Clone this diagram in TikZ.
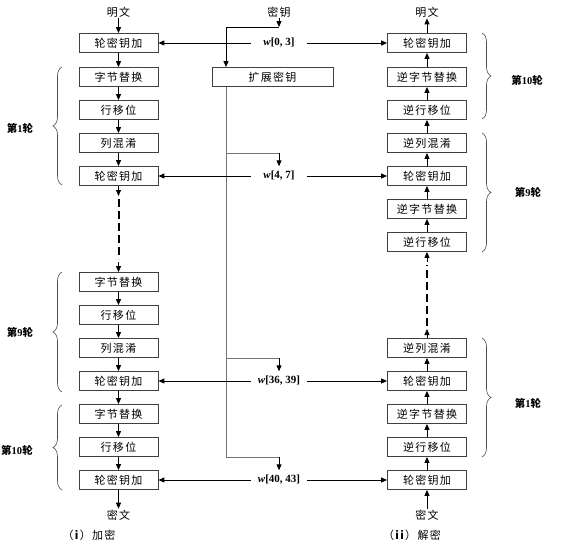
\documentclass[tikz,border=0pt]{standalone}
\usepackage{fontspec}
\setmainfont{Liberation Serif}
\newfontfamily\cjk[LetterSpace=12]{Noto Sans CJK SC}
\newfontfamily\cjkn{Noto Sans CJK SC}
\usetikzlibrary{arrows.meta,decorations.pathreplacing}
\begin{document}
\begin{tikzpicture}[x=1pt,y=-1pt,
 box/.style={draw=black!75,line width=0.8pt,minimum width=79pt,minimum height=19pt,inner sep=0pt,font=\cjk\fontsize{11}{11}\selectfont},
 arr/.style={-{Triangle[length=6pt,width=5pt]},line width=0.9pt},
 lbl/.style={font=\cjk\fontsize{11}{11}\selectfont,inner sep=1pt},
 wl/.style={font=\fontsize{11}{11}\selectfont\bfseries,minimum width=55pt,minimum height=19pt,inner sep=0pt},
 brc/.style={decorate,decoration={brace,amplitude=9pt},draw=black!70,line width=0.6pt},
 rnd/.style={font=\fontsize{10.5}{10.5}\selectfont\bfseries,inner sep=1pt},
 trunk/.style={draw=black!55,line width=0.9pt},
 dsh/.style={line width=2pt,dash pattern=on 8pt off 4pt}
]
\useasboundingbox (0,0) rectangle (562,546);

% left column (encryption)
\node[box] (L1) at (118.5,43) {轮密钥加};
\node[box] (L2) at (118.5,77) {字节替换};
\node[box] (L3) at (118.5,110) {行移位};
\node[box] (L4) at (118.5,143) {列混淆};
\node[box] (L5) at (118.5,176) {轮密钥加};
\node[box] (L6) at (118.5,282) {字节替换};
\node[box] (L7) at (118.5,315) {行移位};
\node[box] (L8) at (118.5,348) {列混淆};
\node[box] (L9) at (118.5,381) {轮密钥加};
\node[box] (L10) at (118.5,414) {字节替换};
\node[box] (L11) at (118.5,447) {行移位};
\node[box] (L12) at (118.5,480) {轮密钥加};

% right column (decryption)
\node[box] (R1) at (427,43) {轮密钥加};
\node[box] (R2) at (427,77) {逆字节替换};
\node[box] (R3) at (427,110) {逆行移位};
\node[box] (R4) at (427,143) {逆列混淆};
\node[box] (R5) at (427,176) {轮密钥加};
\node[box] (R6) at (427,209) {逆字节替换};
\node[box] (R7) at (427,242) {逆行移位};
\node[box] (R8) at (427,348) {逆列混淆};
\node[box] (R9) at (427,381) {轮密钥加};
\node[box] (R10) at (427,414) {逆字节替换};
\node[box] (R11) at (427,447) {逆行移位};
\node[box] (R12) at (427,480) {轮密钥加};

% key expansion
\node[box,minimum width=121pt] (E) at (272.5,77) {扩展密钥};

% texts
\node[lbl] (pL) at (118.5,12) {明文};
\node[lbl] (pR) at (427,12) {明文};
\node[lbl] (key) at (279,12) {密钥};
\node[lbl] (cL) at (118.5,515) {密文};
\node[lbl] (cR) at (427,515) {密文};
\node[lbl] (capL) at (89,535) {（\textbf{i}）加密};
\node[lbl] (capR) at (412,535) {（\textbf{ii}）解密};

% w labels
\node[wl] (w03) at (279,43) {\textit{w}[0, 3]};
\node[wl] (w47) at (279,176) {\textit{w}[4, 7]};
\node[wl] (w3639) at (279,381) {\textit{w}[36, 39]};
\node[wl] (w4043) at (279,480) {\textit{w}[40, 43]};

% coordinates
\coordinate (kj) at (279,27);
\coordinate (t1) at (226,153);
\coordinate (t2) at (226,358);
\coordinate (t3) at (226,457);
\coordinate (d1) at (118.5,196);
\coordinate (d2) at (118.5,262);
\coordinate (d3) at (427,329);
\coordinate (d4) at (427,262);

% left arrows
\draw[arr] (pL) -- (L1);
\draw[arr] (L1) -- (L2);
\draw[arr] (L2) -- (L3);
\draw[arr] (L3) -- (L4);
\draw[arr] (L4) -- (L5);
\draw[arr] (L5) -- (d1);
\draw[dsh,shorten <=3pt,shorten >=3pt] (d1) -- (d2);
\draw[arr] (d2) -- (L6);
\draw[arr] (L6) -- (L7);
\draw[arr] (L7) -- (L8);
\draw[arr] (L8) -- (L9);
\draw[arr] (L9) -- (L10);
\draw[arr] (L10) -- (L11);
\draw[arr] (L11) -- (L12);
\draw[arr] (L12) -- (cL);

% right arrows
\draw[arr] (cR) -- (R12);
\draw[arr] (R12) -- (R11);
\draw[arr] (R11) -- (R10);
\draw[arr] (R10) -- (R9);
\draw[arr] (R9) -- (R8);
\draw[arr] (R8) -- (d3);
\draw[dsh,shorten <=3pt,shorten >=3pt] (d3) -- (d4);
\draw[arr] (d4) -- (R7);
\draw[arr] (R7) -- (R6);
\draw[arr] (R6) -- (R5);
\draw[arr] (R5) -- (R4);
\draw[arr] (R4) -- (R3);
\draw[arr] (R3) -- (R2);
\draw[arr] (R2) -- (R1);
\draw[arr] (R1) -- (pR);

% key path
\draw[arr] (key) -- (kj);
\draw[arr] (kj) -| (E.north -| t1);
\draw[trunk] (E.south -| t1) -- (t3);
\draw[trunk] (t1) -- (t1 -| w47.north);
\draw[arr] (t1 -| w47.north) -- (w47.north);
\draw[trunk] (t2) -- (t2 -| w3639.north);
\draw[arr] (t2 -| w3639.north) -- (w3639.north);
\draw[trunk] (t3) -- (t3 -| w4043.north);
\draw[arr] (t3 -| w4043.north) -- (w4043.north);

% round keys to boxes
\draw[arr] (w03.west) -- (L1.east);
\draw[arr] (w03.east) -- (R1.west);
\draw[arr] (w47.west) -- (L5.east);
\draw[arr] (w47.east) -- (R5.west);
\draw[arr] (w3639.west) -- (L9.east);
\draw[arr] (w3639.east) -- (R9.west);
\draw[arr] (w4043.west) -- (L12.east);
\draw[arr] (w4043.east) -- (R12.west);

% braces and round labels
\draw[brc] (62,185) -- (62,67);
\draw[brc] (62,392) -- (62,272);
\draw[brc] (62,490) -- (62,405);
\draw[brc] (482,33) -- (482,119);
\draw[brc] (482,133) -- (482,252);
\draw[brc] (482,338) -- (482,457);
\node[rnd] (rL1) at (20,128) {{\cjkn 第}1{\cjkn 轮}};
\node[rnd] (rL9) at (20,332) {{\cjkn 第}9{\cjkn 轮}};
\node[rnd] (rL10) at (17,450) {{\cjkn 第}10{\cjkn 轮}};
\node[rnd] (rR10) at (527,80) {{\cjkn 第}10{\cjkn 轮}};
\node[rnd] (rR9) at (528,192) {{\cjkn 第}9{\cjkn 轮}};
\node[rnd] (rR1) at (528,403) {{\cjkn 第}1{\cjkn 轮}};
\end{tikzpicture}
\end{document}
